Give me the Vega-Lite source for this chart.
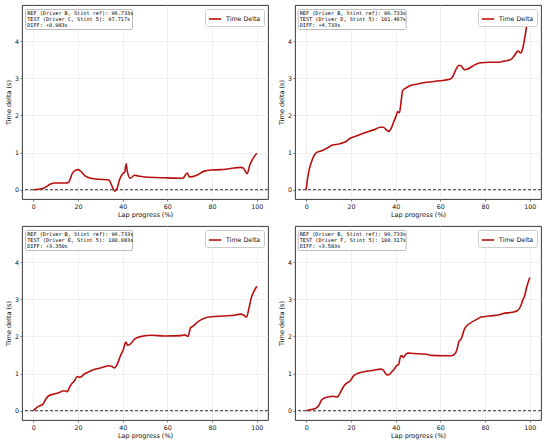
{
  "$schema": "https://vega.github.io/schema/vega-lite/v6.json",
  "padding": {"left": 5, "top": 4, "right": 6, "bottom": 4},
  "background": "white",
  "bounds": "flush",
  "spacing": 27,
  "columns": 2,
  "datasets": {
    "p1": [
      {"x": 0, "y": 0}, {"x": 4.3, "y": 0.03}, {"x": 8, "y": 0.16}, {"x": 9.4, "y": 0.18}, {"x": 14.6, "y": 0.18},
      {"x": 15.8, "y": 0.2}, {"x": 17.8, "y": 0.47}, {"x": 20, "y": 0.54}, {"x": 21.2, "y": 0.5}, {"x": 23.2, "y": 0.37},
      {"x": 25.7, "y": 0.31}, {"x": 29.4, "y": 0.28}, {"x": 33, "y": 0.27}, {"x": 34, "y": 0.25}, {"x": 35.3, "y": 0.09},
      {"x": 36.4, "y": -0.04}, {"x": 37.5, "y": 0.03}, {"x": 38.5, "y": 0.25}, {"x": 40, "y": 0.43}, {"x": 40.9, "y": 0.47},
      {"x": 41.6, "y": 0.7}, {"x": 42, "y": 0.52}, {"x": 43.4, "y": 0.31}, {"x": 45.3, "y": 0.39}, {"x": 47, "y": 0.37},
      {"x": 50, "y": 0.34}, {"x": 58.8, "y": 0.32}, {"x": 67, "y": 0.31}, {"x": 68, "y": 0.39}, {"x": 68.9, "y": 0.45},
      {"x": 69.9, "y": 0.34}, {"x": 72.9, "y": 0.38}, {"x": 76.5, "y": 0.5}, {"x": 79.5, "y": 0.53}, {"x": 83.9, "y": 0.54},
      {"x": 88.3, "y": 0.57}, {"x": 92.8, "y": 0.6}, {"x": 94, "y": 0.58}, {"x": 95.7, "y": 0.43}, {"x": 96.8, "y": 0.65},
      {"x": 98, "y": 0.81}, {"x": 100, "y": 0.983}
    ],
    "p2": [
      {"x": 0, "y": 0}, {"x": 0.5, "y": 0.25}, {"x": 1.2, "y": 0.5}, {"x": 2.2, "y": 0.72}, {"x": 3.5, "y": 0.92}, {"x": 4.9, "y": 1.01},
      {"x": 6.6, "y": 1.04}, {"x": 9.6, "y": 1.13}, {"x": 11.8, "y": 1.2}, {"x": 14.7, "y": 1.23}, {"x": 16.2, "y": 1.26},
      {"x": 17.7, "y": 1.29}, {"x": 18.7, "y": 1.34}, {"x": 19.9, "y": 1.39}, {"x": 22.1, "y": 1.44}, {"x": 26.5, "y": 1.54},
      {"x": 30.2, "y": 1.61}, {"x": 33.2, "y": 1.68}, {"x": 34.4, "y": 1.68}, {"x": 36.1, "y": 1.6}, {"x": 36.9, "y": 1.57},
      {"x": 37.9, "y": 1.64}, {"x": 39.1, "y": 1.82}, {"x": 40.3, "y": 2.0}, {"x": 40.9, "y": 2.1}, {"x": 41.7, "y": 2.07},
      {"x": 42.5, "y": 2.4}, {"x": 43.1, "y": 2.66}, {"x": 45, "y": 2.75}, {"x": 46.5, "y": 2.8}, {"x": 49.4, "y": 2.84},
      {"x": 53.8, "y": 2.89}, {"x": 59.7, "y": 2.93}, {"x": 64.2, "y": 2.97}, {"x": 65.3, "y": 3.02}, {"x": 67.1, "y": 3.25},
      {"x": 68.3, "y": 3.35}, {"x": 69.3, "y": 3.33}, {"x": 70.8, "y": 3.23}, {"x": 72.3, "y": 3.25}, {"x": 74.5, "y": 3.33},
      {"x": 77.4, "y": 3.41}, {"x": 81.9, "y": 3.43}, {"x": 86.3, "y": 3.43}, {"x": 88.5, "y": 3.46}, {"x": 91.4, "y": 3.5},
      {"x": 92.9, "y": 3.59}, {"x": 94.7, "y": 3.73}, {"x": 95.9, "y": 3.68}, {"x": 96.3, "y": 3.7}, {"x": 97.8, "y": 4.11},
      {"x": 98.8, "y": 4.47}, {"x": 100, "y": 4.733}
    ],
    "p3": [
      {"x": 0, "y": 0}, {"x": 1.3, "y": 0.07}, {"x": 2.8, "y": 0.13}, {"x": 4.3, "y": 0.17}, {"x": 5.8, "y": 0.33},
      {"x": 7.2, "y": 0.41}, {"x": 9.4, "y": 0.45}, {"x": 11.7, "y": 0.49}, {"x": 13.1, "y": 0.53}, {"x": 14.6, "y": 0.53},
      {"x": 15.3, "y": 0.51}, {"x": 16.1, "y": 0.61}, {"x": 17.3, "y": 0.73}, {"x": 18.3, "y": 0.79}, {"x": 19.8, "y": 0.92},
      {"x": 21, "y": 0.9}, {"x": 22.7, "y": 0.98}, {"x": 24.9, "y": 1.05}, {"x": 27.9, "y": 1.12}, {"x": 30.8, "y": 1.16},
      {"x": 33.8, "y": 1.21}, {"x": 35.3, "y": 1.19}, {"x": 36.4, "y": 1.15}, {"x": 37.5, "y": 1.24}, {"x": 38.9, "y": 1.46},
      {"x": 40.4, "y": 1.66}, {"x": 41.4, "y": 1.85}, {"x": 42.3, "y": 1.76}, {"x": 43.4, "y": 1.79}, {"x": 45.6, "y": 1.94},
      {"x": 48.5, "y": 2.0}, {"x": 52.9, "y": 2.03}, {"x": 58.8, "y": 2.01}, {"x": 66.2, "y": 2.02}, {"x": 67.7, "y": 2.04},
      {"x": 69.2, "y": 2.0}, {"x": 70.4, "y": 2.23}, {"x": 71.4, "y": 2.27}, {"x": 73.6, "y": 2.39}, {"x": 76.5, "y": 2.49},
      {"x": 79.5, "y": 2.53}, {"x": 85.4, "y": 2.55}, {"x": 89.8, "y": 2.57}, {"x": 92.8, "y": 2.6}, {"x": 94.2, "y": 2.57},
      {"x": 95.4, "y": 2.52}, {"x": 96.5, "y": 2.76}, {"x": 97.5, "y": 3.03}, {"x": 98.7, "y": 3.21}, {"x": 100, "y": 3.35}
    ],
    "p4": [
      {"x": 0, "y": 0}, {"x": 2.2, "y": 0.03}, {"x": 4.4, "y": 0.07}, {"x": 5.6, "y": 0.14}, {"x": 6.9, "y": 0.29},
      {"x": 8.1, "y": 0.34}, {"x": 11.1, "y": 0.38}, {"x": 12.2, "y": 0.39}, {"x": 13.3, "y": 0.37}, {"x": 14.3, "y": 0.39},
      {"x": 15.5, "y": 0.52}, {"x": 17, "y": 0.68}, {"x": 18.1, "y": 0.74}, {"x": 19.6, "y": 0.8}, {"x": 21.4, "y": 0.95},
      {"x": 22.9, "y": 1.0}, {"x": 25.8, "y": 1.05}, {"x": 30.2, "y": 1.09}, {"x": 33.2, "y": 1.12}, {"x": 34.4, "y": 1.1},
      {"x": 35.4, "y": 1.01}, {"x": 36.4, "y": 0.96}, {"x": 37.6, "y": 1.0}, {"x": 39.4, "y": 1.12}, {"x": 40.6, "y": 1.22},
      {"x": 41.3, "y": 1.24}, {"x": 42.3, "y": 1.48}, {"x": 42.8, "y": 1.48}, {"x": 43.4, "y": 1.43}, {"x": 44.2, "y": 1.49},
      {"x": 45.4, "y": 1.55}, {"x": 47.9, "y": 1.54}, {"x": 53.8, "y": 1.52}, {"x": 56, "y": 1.49}, {"x": 61.2, "y": 1.48},
      {"x": 64.9, "y": 1.48}, {"x": 66.4, "y": 1.52}, {"x": 67.4, "y": 1.64}, {"x": 68.3, "y": 1.86}, {"x": 69.3, "y": 1.93},
      {"x": 70.8, "y": 2.2}, {"x": 73, "y": 2.34}, {"x": 76, "y": 2.45}, {"x": 78.2, "y": 2.52}, {"x": 81.9, "y": 2.55},
      {"x": 86.3, "y": 2.58}, {"x": 87.8, "y": 2.61}, {"x": 92.2, "y": 2.65}, {"x": 94.4, "y": 2.69}, {"x": 95.9, "y": 2.81},
      {"x": 96.9, "y": 2.99}, {"x": 97.6, "y": 3.07}, {"x": 98.5, "y": 3.3}, {"x": 100, "y": 3.583}
    ],
    "notes": [
      {"panel": "p1", "text": "REF (Driver B, Stint ref): 96.733s\nTEST (Driver C, Stint 5): 97.717s\nDIFF: +0.983s"},
      {"panel": "p2", "text": "REF (Driver B, Stint ref): 96.733s\nTEST (Driver D, Stint 5): 101.467s\nDIFF: +4.733s"},
      {"panel": "p3", "text": "REF (Driver B, Stint ref): 96.733s\nTEST (Driver E, Stint 5): 100.083s\nDIFF: +3.350s"},
      {"panel": "p4", "text": "REF (Driver B, Stint ref): 96.733s\nTEST (Driver F, Stint 5): 100.317s\nDIFF: +3.583s"}
    ]
  },
  "concat": [
    {
      "width": 246, "height": 194,
      "layer": [
        {"data": {"name": "notes"}, "transform": [{"filter": "datum.panel == 'p1'"}], "mark": {"type": "rule", "color": "black", "strokeDash": [3, 2], "strokeWidth": 0.8}, "encoding": {"y": {"datum": 0}}},
        {"data": {"name": "p1"}, "transform": [{"calculate": "'Time Delta'", "as": "series"}],
         "mark": {"type": "line", "strokeWidth": 1.6, "interpolate": "monotone"},
         "encoding": {
           "x": {"field": "x", "type": "quantitative", "scale": {"domain": [-5, 105], "nice": false, "zero": false}, "axis": {"values": [0, 20, 40, 60, 80, 100], "title": "Lap progress (%)"}},
           "y": {"field": "y", "type": "quantitative", "scale": {"domain": [-0.25, 4.97], "nice": false, "zero": false}, "axis": {"values": [0, 1, 2, 3, 4], "title": "Time delta (s)"}},
           "color": {"field": "series", "type": "nominal", "scale": {"range": ["#b80f0f"]}, "legend": {"title": null, "orient": "top-right"}}
         }},
        {"data": {"name": "notes"}, "transform": [{"filter": "datum.panel == 'p1'"}],
         "mark": {"type": "rect", "fill": "white", "stroke": "#aaaaaa", "strokeWidth": 0.8, "cornerRadius": 1.5},
         "encoding": {"x": {"datum": -3.4}, "x2": {"datum": 44.4}, "y": {"datum": 4.85}, "y2": {"datum": 4.31}}},
        {"data": {"name": "notes"}, "transform": [{"filter": "datum.panel == 'p1'"}],
         "mark": {"type": "text", "align": "left", "baseline": "top", "font": "DejaVu Sans Mono", "fontSize": 5.2, "lineHeight": 6, "lineBreak": "\n", "color": "black"},
         "encoding": {"x": {"datum": -2.7}, "y": {"datum": 4.81}, "text": {"field": "text"}}}
      ]
    },
    {
      "width": 246, "height": 194,
      "layer": [
        {"data": {"name": "notes"}, "transform": [{"filter": "datum.panel == 'p2'"}], "mark": {"type": "rule", "color": "black", "strokeDash": [3, 2], "strokeWidth": 0.8}, "encoding": {"y": {"datum": 0}}},
        {"data": {"name": "p2"}, "transform": [{"calculate": "'Time Delta'", "as": "series"}],
         "mark": {"type": "line", "strokeWidth": 1.6, "interpolate": "monotone"},
         "encoding": {
           "x": {"field": "x", "type": "quantitative", "scale": {"domain": [-5, 105], "nice": false, "zero": false}, "axis": {"values": [0, 20, 40, 60, 80, 100], "title": "Lap progress (%)"}},
           "y": {"field": "y", "type": "quantitative", "scale": {"domain": [-0.25, 4.97], "nice": false, "zero": false}, "axis": {"values": [0, 1, 2, 3, 4], "title": "Time delta (s)"}},
           "color": {"field": "series", "type": "nominal", "scale": {"range": ["#b80f0f"]}, "legend": {"title": null, "orient": "top-right"}}
         }},
        {"data": {"name": "notes"}, "transform": [{"filter": "datum.panel == 'p2'"}],
         "mark": {"type": "rect", "fill": "white", "stroke": "#aaaaaa", "strokeWidth": 0.8, "cornerRadius": 1.5},
         "encoding": {"x": {"datum": -3.6}, "x2": {"datum": 44.7}, "y": {"datum": 4.85}, "y2": {"datum": 4.31}}},
        {"data": {"name": "notes"}, "transform": [{"filter": "datum.panel == 'p2'"}],
         "mark": {"type": "text", "align": "left", "baseline": "top", "font": "DejaVu Sans Mono", "fontSize": 5.2, "lineHeight": 6, "lineBreak": "\n", "color": "black"},
         "encoding": {"x": {"datum": -2.9}, "y": {"datum": 4.81}, "text": {"field": "text"}}}
      ]
    },
    {
      "width": 246, "height": 194,
      "layer": [
        {"data": {"name": "notes"}, "transform": [{"filter": "datum.panel == 'p3'"}], "mark": {"type": "rule", "color": "black", "strokeDash": [3, 2], "strokeWidth": 0.8}, "encoding": {"y": {"datum": 0}}},
        {"data": {"name": "p3"}, "transform": [{"calculate": "'Time Delta'", "as": "series"}],
         "mark": {"type": "line", "strokeWidth": 1.6, "interpolate": "monotone"},
         "encoding": {
           "x": {"field": "x", "type": "quantitative", "scale": {"domain": [-5, 105], "nice": false, "zero": false}, "axis": {"values": [0, 20, 40, 60, 80, 100], "title": "Lap progress (%)"}},
           "y": {"field": "y", "type": "quantitative", "scale": {"domain": [-0.25, 4.97], "nice": false, "zero": false}, "axis": {"values": [0, 1, 2, 3, 4], "title": "Time delta (s)"}},
           "color": {"field": "series", "type": "nominal", "scale": {"range": ["#b80f0f"]}, "legend": {"title": null, "orient": "top-right"}}
         }},
        {"data": {"name": "notes"}, "transform": [{"filter": "datum.panel == 'p3'"}],
         "mark": {"type": "rect", "fill": "white", "stroke": "#aaaaaa", "strokeWidth": 0.8, "cornerRadius": 1.5},
         "encoding": {"x": {"datum": -3.4}, "x2": {"datum": 44.4}, "y": {"datum": 4.85}, "y2": {"datum": 4.31}}},
        {"data": {"name": "notes"}, "transform": [{"filter": "datum.panel == 'p3'"}],
         "mark": {"type": "text", "align": "left", "baseline": "top", "font": "DejaVu Sans Mono", "fontSize": 5.2, "lineHeight": 6, "lineBreak": "\n", "color": "black"},
         "encoding": {"x": {"datum": -2.7}, "y": {"datum": 4.81}, "text": {"field": "text"}}}
      ]
    },
    {
      "width": 246, "height": 194,
      "layer": [
        {"data": {"name": "notes"}, "transform": [{"filter": "datum.panel == 'p4'"}], "mark": {"type": "rule", "color": "black", "strokeDash": [3, 2], "strokeWidth": 0.8}, "encoding": {"y": {"datum": 0}}},
        {"data": {"name": "p4"}, "transform": [{"calculate": "'Time Delta'", "as": "series"}],
         "mark": {"type": "line", "strokeWidth": 1.6, "interpolate": "monotone"},
         "encoding": {
           "x": {"field": "x", "type": "quantitative", "scale": {"domain": [-5, 105], "nice": false, "zero": false}, "axis": {"values": [0, 20, 40, 60, 80, 100], "title": "Lap progress (%)"}},
           "y": {"field": "y", "type": "quantitative", "scale": {"domain": [-0.25, 4.97], "nice": false, "zero": false}, "axis": {"values": [0, 1, 2, 3, 4], "title": "Time delta (s)"}},
           "color": {"field": "series", "type": "nominal", "scale": {"range": ["#b80f0f"]}, "legend": {"title": null, "orient": "top-right"}}
         }},
        {"data": {"name": "notes"}, "transform": [{"filter": "datum.panel == 'p4'"}],
         "mark": {"type": "rect", "fill": "white", "stroke": "#aaaaaa", "strokeWidth": 0.8, "cornerRadius": 1.5},
         "encoding": {"x": {"datum": -3.6}, "x2": {"datum": 44.7}, "y": {"datum": 4.85}, "y2": {"datum": 4.31}}},
        {"data": {"name": "notes"}, "transform": [{"filter": "datum.panel == 'p4'"}],
         "mark": {"type": "text", "align": "left", "baseline": "top", "font": "DejaVu Sans Mono", "fontSize": 5.2, "lineHeight": 6, "lineBreak": "\n", "color": "black"},
         "encoding": {"x": {"datum": -2.9}, "y": {"datum": 4.81}, "text": {"field": "text"}}}
      ]
    }
  ],
  "resolve": {"scale": {"color": "independent"}, "legend": {"color": "independent"}},
  "config": {
    "font": "DejaVu Sans",
    "view": {"stroke": "#222222", "strokeWidth": 0.9},
    "axis": {
      "domain": false,
      "grid": true,
      "gridColor": "#e6e6e6",
      "gridWidth": 0.6,
      "tickSize": 2,
      "tickColor": "#222222",
      "tickWidth": 0.6,
      "labelFont": "DejaVu Sans",
      "labelFontSize": 6.3,
      "labelColor": "#111111",
      "labelPadding": 1.5,
      "titleFont": "DejaVu Sans",
      "titleFontSize": 6.5,
      "titleFontWeight": "normal",
      "titleColor": "#111111",
      "titlePadding": 3
    },
    "axisX": {"labelPadding": 2, "titlePadding": 2},
    "legend": {
      "offset": 4,
      "padding": 3,
      "strokeColor": "#cccccc",
      "fillColor": "white",
      "cornerRadius": 2,
      "symbolType": "stroke",
      "symbolSize": 150,
      "symbolStrokeWidth": 1.6,
      "labelFont": "DejaVu Sans",
      "labelFontSize": 6.3,
      "labelColor": "#111111",
      "labelOffset": 4
    }
  }
}
